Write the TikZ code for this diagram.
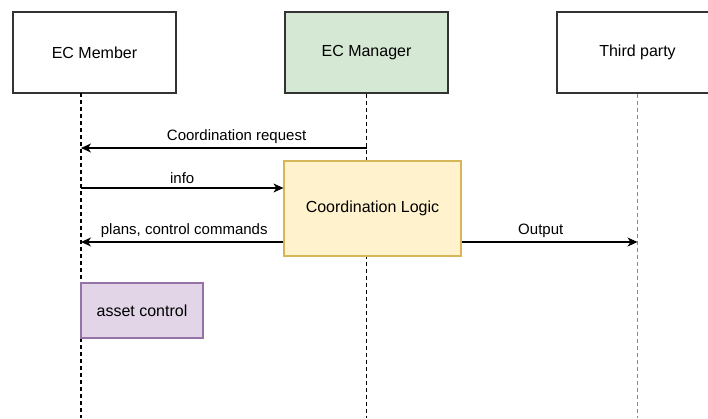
\documentclass[tikz,border=0pt]{standalone}
\usepackage{fontspec}
\setmainfont{Liberation Sans}
\usetikzlibrary{arrows.meta,positioning}

\definecolor{boxline}{HTML}{333333}
\definecolor{mgrfill}{HTML}{D5E8D4}
\definecolor{logicfill}{HTML}{FFF2CC}
\definecolor{logicline}{HTML}{D6B656}
\definecolor{assetfill}{HTML}{E1D5E7}
\definecolor{assetline}{HTML}{9673A6}
\definecolor{tpline}{HTML}{6C8EBF}

\tikzset{
  actor/.style={draw=boxline,line width=1.2pt,minimum height=81pt,inner sep=0pt,
    font=\fontsize{16}{18}\selectfont},
  lifeline/.style={line width=1.2pt,dash pattern=on 4pt off 3pt},
  msg/.style={line width=1.2pt,-{Stealth[length=10pt,width=9pt,inset=3pt]}},
  lbl/.style={font=\fontsize{15}{17}\selectfont,inner sep=0pt,above=4pt}
}

\begin{document}
\begin{tikzpicture}[x=1pt,y=-1pt]
\useasboundingbox (0,0) rectangle (708,418);
\clip (0,0) rectangle (708,418);

% Actors
\node[actor,minimum width=163pt] (member) at (94.5,52.5) {EC Member};
\node[actor,minimum width=163pt,fill=mgrfill] (manager) at (366.5,52.5) {EC Manager};
\node[actor,minimum width=161pt] (third) at (637.5,52.5) {Third party};

% Lifelines
\coordinate (memtop) at (81,93);
\coordinate (membot) at (81,418);
\coordinate (mgrbot) at (manager.south |- membot);
\coordinate (tpbot) at (third.south |- membot);
\draw[lifeline] (memtop) -- (membot);
\draw[lifeline] (manager.south) -- (mgrbot);
\draw[lifeline,draw=tpline] (third.south) -- (tpbot);

% Boxes on the lifelines
\node[draw=logicline,fill=logicfill,line width=1.2pt,minimum width=177pt,minimum height=95pt,
  font=\fontsize{16}{18}\selectfont] (logic) at (372.5,208.5) {Coordination Logic};
\node[draw=assetline,fill=assetfill,line width=1.2pt,minimum width=122pt,minimum height=55pt,
  font=\fontsize{16}{18}\selectfont] (asset) at (142,310.5) {asset control};

% Messages
\coordinate (mem1) at (81,148);
\coordinate (mgr1) at (manager.south |- mem1);
\coordinate (mem2) at (81,188);
\coordinate (mem3) at (81,242);
\coordinate (tp3) at (third.south |- mem3);

\draw[msg] (mgr1) -- (mem1) node[lbl,pos=0.455] {Coordination request};
\draw[msg] (mem2) -- (logic.west |- mem2) node[lbl,midway] {info};
\draw[msg] (logic.west |- mem3) -- (mem3) node[lbl,pos=0.49] {plans, control commands};
\draw[msg] (logic.east |- mem3) -- (tp3) node[lbl,pos=0.45] {Output};

\end{tikzpicture}
\end{document}
